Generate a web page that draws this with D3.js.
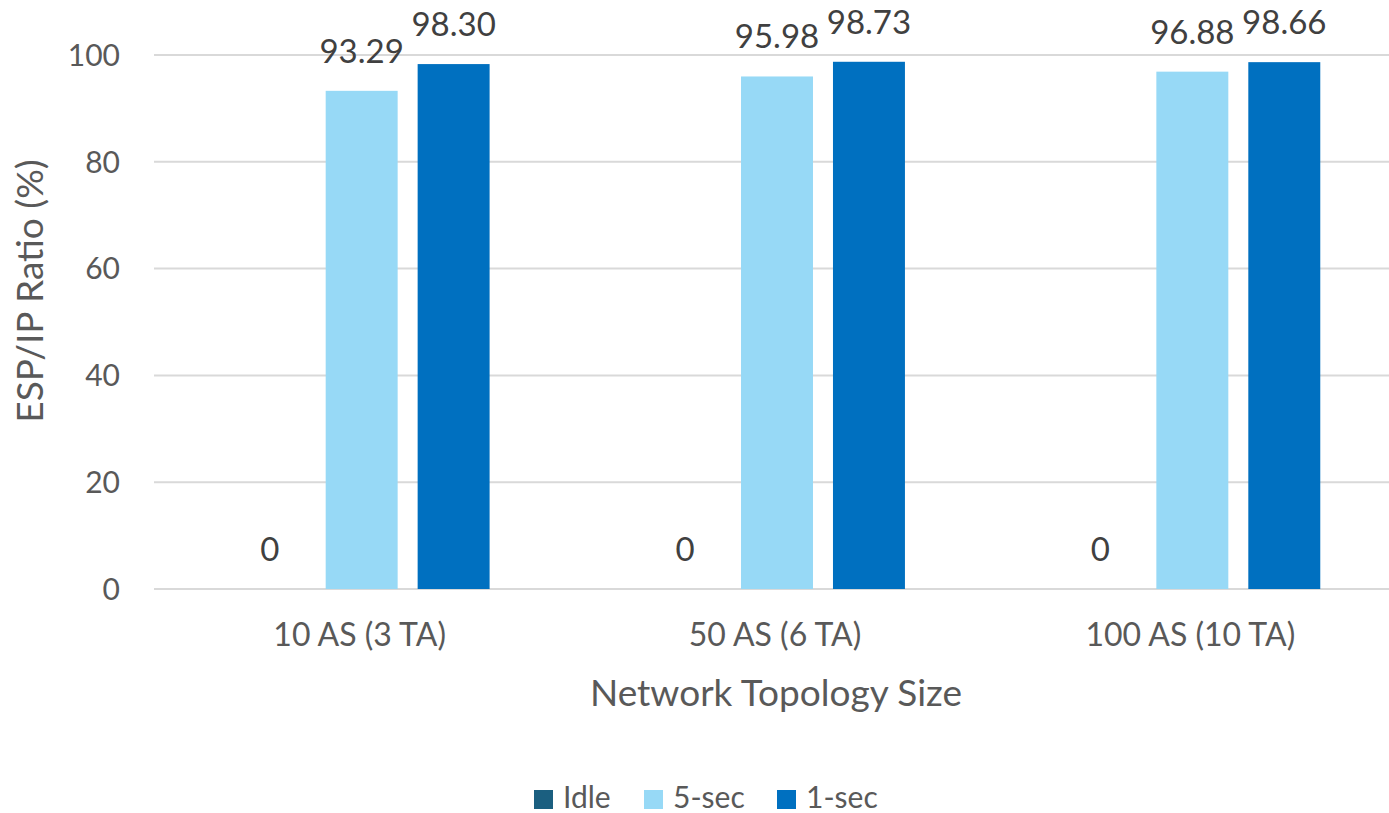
<!DOCTYPE html>
<html><head><meta charset="utf-8">
<script src="https://cdn.jsdelivr.net/npm/d3@7/dist/d3.min.js"></script>
<style>body{margin:0;background:#fff}svg{display:block}text{font-family:Lato,"Open Sans",sans-serif}</style>
</head><body><svg id="c" width="1389" height="813"></svg>
<script>
const categories = ["10 AS (3 TA)", "50 AS (6 TA)", "100 AS (10 TA)"];
const seriesNames = ["Idle", "5-sec", "1-sec"];
const idleValues = [0, 0, 0];
const fiveSecValues = [93.29, 95.98, 96.88];
const oneSecValues = [98.30, 98.73, 98.66];
const yTicks = [0, 20, 40, 60, 80, 100];
const labelText = [["0","93.29","98.30"],["0","95.98","98.73"],["0","96.88","98.66"]];
const colors = ["#1b5f80", "#97d9f6", "#0070c0"];

const series = [idleValues, fiveSecValues, oneSecValues];
const svg = d3.select("#c");
const pLeft = 154, pRight = 1400, pTop = 55, pBottom = 589;

const y = d3.scaleLinear().domain([0, 100]).range([pBottom, pTop]);
const x0 = d3.scaleBand().domain(categories).range([pLeft, pRight]).padding(0);
const x1 = d3.scaleBand().domain(seriesNames).range([0, x0.bandwidth()]).paddingInner(20/92).paddingOuter(0.867);

// gridlines
svg.append("g").selectAll("line").data(yTicks).join("line")
  .attr("x1", pLeft).attr("x2", 1389)
  .attr("y1", d => y(d)).attr("y2", d => y(d))
  .attr("stroke", "#d9d9d9").attr("stroke-width", 2);

// y tick labels
svg.append("g").selectAll("text").data(yTicks).join("text")
  .attr("x", 120).attr("y", d => y(d)).attr("dy", "0.36em")
  .attr("text-anchor", "end").attr("fill", "#595959").attr("font-size", 30)
  .text(d => d);

// bars
const groups = svg.append("g").selectAll("g").data(categories).join("g")
  .attr("transform", c => `translate(${x0(c)},0)`);
groups.each(function(c, ci) {
  const g = d3.select(this);
  seriesNames.forEach((s, si) => {
    const v = series[si][ci];
    g.append("rect").attr("x", x1(s)).attr("width", x1.bandwidth())
      .attr("y", y(v)).attr("height", y(0) - y(v)).attr("fill", colors[si]);
    g.append("text").attr("x", x1(s) + x1.bandwidth()/2).attr("y", y(v) - 28)
      .attr("text-anchor", "middle").attr("fill", "#404040").attr("font-size", 33)
      .text(labelText[ci][si]);
  });
});

// category labels
svg.append("g").selectAll("text").data(categories).join("text")
  .attr("x", c => x0(c) + x1("5-sec") + x1.bandwidth()/2 - 2).attr("y", 646)
  .attr("text-anchor", "middle").attr("fill", "#595959").attr("font-size", 32)
  .text(c => c);

// axis titles
svg.append("text").attr("x", 776).attr("y", 706).attr("text-anchor", "middle")
  .attr("fill", "#595959").attr("font-size", 37).text("Network Topology Size");
svg.append("text").attr("transform", "translate(43,291) rotate(-90)")
  .attr("text-anchor", "middle").attr("fill", "#595959").attr("font-size", 37)
  .text("ESP/IP Ratio (%)");

// legend
const legendX = [534, 644, 777];
const lg = svg.append("g").selectAll("g").data(seriesNames).join("g")
  .attr("transform", (d, i) => `translate(${legendX[i]},790)`);
lg.append("rect").attr("width", 19).attr("height", 19).attr("fill", (d, i) => colors[i]);
lg.append("text").attr("x", 29).attr("y", 18)
  .attr("fill", "#595959").attr("font-size", 30).text(d => d);
</script></body></html>
